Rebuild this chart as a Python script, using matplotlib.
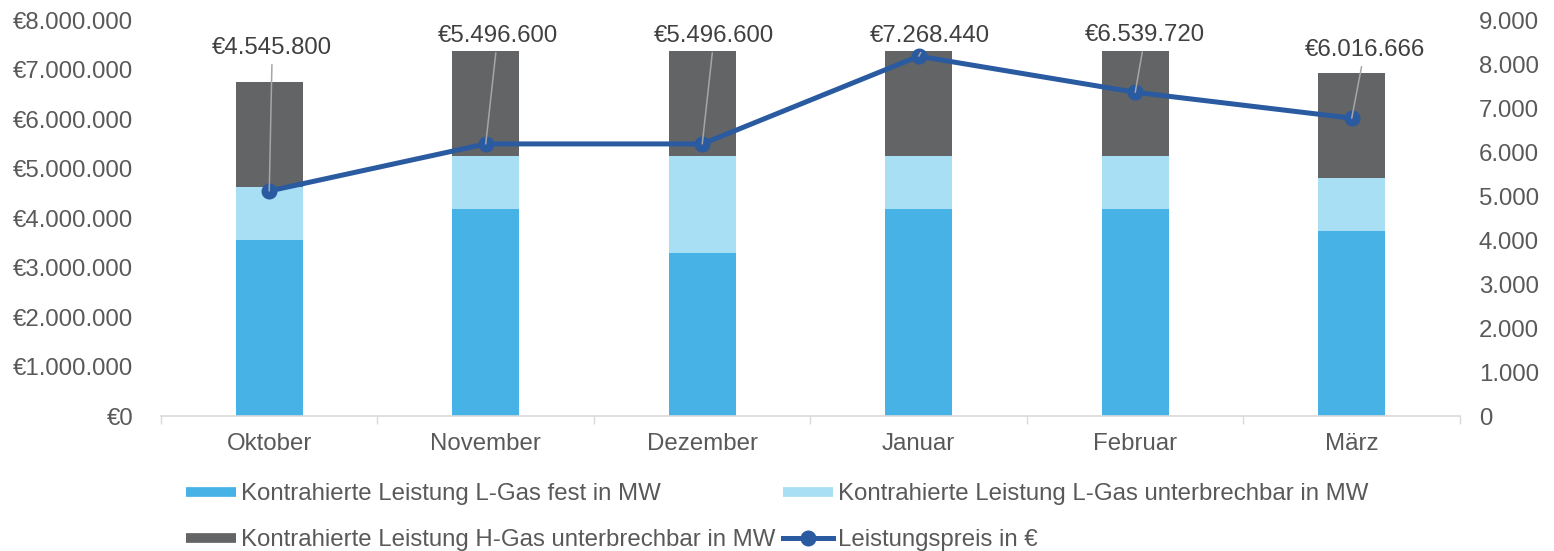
import matplotlib

matplotlib.use("Agg")
import matplotlib.pyplot as plt
from matplotlib.lines import Line2D
from matplotlib.ticker import FuncFormatter, FixedLocator
from matplotlib.transforms import blended_transform_factory

months = ["Oktober", "November", "Dezember", "Januar", "Februar", "März"]
l_gas_fest = [4000, 4700, 3700, 4700, 4700, 4200]
l_gas_unterbrechbar = [1200, 1200, 2200, 1200, 1200, 1200]
h_gas_unterbrechbar = [2400, 2400, 2400, 2400, 2400, 2400]
leistungspreis = [4545800, 5496600, 5496600, 7268440, 6539720, 6016666]

series_labels = [
    "Kontrahierte Leistung L-Gas fest in MW",
    "Kontrahierte Leistung L-Gas unterbrechbar in MW",
    "Kontrahierte Leistung H-Gas unterbrechbar in MW",
    "Leistungspreis in €",
]

C_FEST = "#47B2E5"
C_LUNT = "#A9DFF5"
C_HUNT = "#636466"
C_LINE = "#2A5AA0"
C_TICK = "#595959"
C_LABEL = "#404040"
C_GRID = "#D9D9D9"

plt.rcParams["font.family"] = ["Liberation Sans", "DejaVu Sans"]
FS = 17.3

fig = plt.figure(figsize=(15.54, 5.51), dpi=100)
ax = fig.add_axes([0.1036, 0.245, 0.8359, 0.7187])
ax2 = ax.twinx()  # euro axis for the line, drawn over the bars

x = list(range(len(months)))
width = 0.31
bottom2 = [a + b for a, b in zip(l_gas_fest, l_gas_unterbrechbar)]
ax.bar(x, l_gas_fest, width, color=C_FEST, zorder=2)
ax.bar(x, l_gas_unterbrechbar, width, bottom=l_gas_fest, color=C_LUNT, zorder=2)
ax.bar(x, h_gas_unterbrechbar, width, bottom=bottom2, color=C_HUNT, zorder=2)

ax.set_xlim(-0.5, len(months) - 0.5)
ax.set_ylim(0, 9000)
ax.set_yticks(range(0, 9001, 1000))
ax.yaxis.set_major_formatter(FuncFormatter(lambda v, _: f"{v:,.0f}".replace(",", ".")))
ax.yaxis.tick_right()
ax.tick_params(axis="y", length=0, pad=13.5, labelsize=FS, labelcolor=C_TICK)

ax.set_xticks(x)
ax.set_xticklabels(months)
ax.xaxis.set_minor_locator(FixedLocator([i - 0.5 for i in range(len(months) + 1)]))
ax.tick_params(axis="x", which="major", length=0, pad=12, labelsize=FS, labelcolor=C_TICK)
ax.tick_params(axis="x", which="minor", length=6, width=1, color=C_GRID)

for side in ["top", "left", "right"]:
    ax.spines[side].set_visible(False)
ax.spines["bottom"].set_color(C_GRID)
ax.spines["bottom"].set_linewidth(1.2)

ax2.plot(x, leistungspreis, color=C_LINE, lw=3.6, marker="o", ms=10.5, zorder=3)
ax2.set_ylim(0, 8000000)
ax2.set_yticks(range(0, 8000001, 1000000))
ax2.yaxis.set_major_formatter(FuncFormatter(lambda v, _: "€" + f"{v:,.0f}".replace(",", ".")))
ax2.yaxis.tick_left()
ax2.tick_params(axis="y", length=0, pad=20, labelsize=FS, labelcolor=C_TICK)
for side in ["top", "left", "right", "bottom"]:
    ax2.spines[side].set_visible(False)

# data labels sit near the top with leader lines to the points
label_dx = [0.014, 0.055, 0.055, 0.05, 0.046, 0.06]
label_y = [0.929, 0.959, 0.959, 0.959, 0.961, 0.924]
trans = blended_transform_factory(ax2.transData, ax2.transAxes)
for i, val in enumerate(leistungspreis):
    ax2.annotate(
        "€" + f"{val:,.0f}".replace(",", "."),
        xy=(i, val),
        xytext=(i + label_dx[i], label_y[i]),
        textcoords=trans,
        ha="center",
        va="center",
        fontsize=FS,
        color=C_LABEL,
        arrowprops=dict(arrowstyle="-", color="#A6A6A6", lw=1.1, shrinkA=2, shrinkB=0),
        zorder=4,
    )

handles = [
    Line2D([], [], color=C_FEST, lw=7, solid_capstyle="butt"),
    Line2D([], [], color=C_HUNT, lw=7, solid_capstyle="butt"),
    Line2D([], [], color=C_LUNT, lw=7, solid_capstyle="butt"),
    Line2D([], [], color=C_LINE, lw=3.6, marker="o", ms=10.5),
]
labels = [series_labels[0], series_labels[2], series_labels[1], series_labels[3]]
fig.legend(
    handles,
    labels,
    ncol=2,
    loc="center",
    bbox_to_anchor=(0.5, 0.061),
    frameon=False,
    fontsize=FS,
    labelcolor=C_TICK,
    handlelength=2.1,
    handletextpad=0.2,
    columnspacing=0.3,
    labelspacing=1.0,
)

fig.savefig("out.png", dpi=100)
